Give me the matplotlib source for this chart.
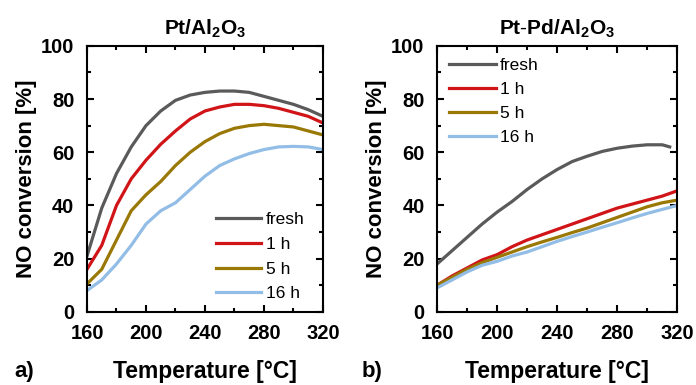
import numpy as np
import matplotlib
matplotlib.use('Agg')
import matplotlib.pyplot as plt
from matplotlib.ticker import MultipleLocator

plt.rcParams['font.family'] = 'Liberation Sans'
plt.rcParams['mathtext.fontset'] = 'custom'
plt.rcParams['mathtext.rm'] = 'Liberation Sans'
plt.rcParams['mathtext.bf'] = 'Liberation Sans:bold'

# Données
labels = ['fresh', '1 h', '5 h', '16 h']
couleurs = ['#5a5a5a', '#d01418', '#9a7806', '#92bde6']

T_a = [160, 170, 180, 190, 200, 210, 220, 230, 240, 250, 260, 270, 280, 290, 300, 310, 320]
pt_fresh = [21, 39, 52, 62, 70, 75.5, 79.5, 81.5, 82.5, 83, 83, 82.5, 81, 79.5, 78, 76, 73.5]
pt_1h = [16, 25, 40, 50, 57, 63, 68, 72.5, 75.5, 77, 78, 78, 77.5, 76.5, 75, 73.5, 71]
pt_5h = [10.5, 16, 27, 38, 44, 49, 55, 60, 64, 67, 69, 70, 70.5, 70, 69.5, 68, 66.5]
pt_16h = [8, 12, 18, 25, 33, 38, 41, 46, 51, 55, 57.5, 59.5, 61, 62, 62.2, 62, 61]

T_b = [160, 170, 180, 190, 200, 210, 220, 230, 240, 250, 260, 270, 280, 290, 300, 310, 320]
T_b_fresh = [160, 170, 180, 190, 200, 210, 220, 230, 240, 250, 260, 270, 280, 290, 300, 310, 315]
ptpd_fresh = [18, 23, 28, 33, 37.5, 41.5, 46, 50, 53.5, 56.5, 58.5, 60.3, 61.5, 62.3, 62.8, 62.8, 62]
ptpd_1h = [10, 13.5, 16.5, 19.5, 21.5, 24.5, 27, 29, 31, 33, 35, 37, 39, 40.5, 42, 43.5, 45.5]
ptpd_5h = [10, 13, 16, 18.5, 20.5, 22.5, 24.5, 26.3, 28, 29.8, 31.5, 33.5, 35.5, 37.5, 39.5, 41, 42]
ptpd_16h = [9, 12, 15, 17.5, 19, 21, 22.5, 24.5, 26.5, 28.3, 30, 31.8, 33.5, 35.3, 37, 38.5, 40]

fig = plt.figure(figsize=(6.96, 3.85), dpi=100)
ax1 = fig.add_axes([0.125, 0.19, 0.339, 0.691])
ax2 = fig.add_axes([0.628, 0.19, 0.345, 0.691])

series_a = [(T_a, pt_fresh), (T_a, pt_1h), (T_a, pt_5h), (T_a, pt_16h)]
series_b = [(T_b_fresh, ptpd_fresh), (T_b, ptpd_1h), (T_b, ptpd_5h), (T_b, ptpd_16h)]

for ax, series, titre in [(ax1, series_a, r'$\mathbf{Pt/Al_2O_3}$'),
                          (ax2, series_b, r'$\mathbf{Pt\text{-}Pd/Al_2O_3}$')]:
    for (x, y), lab, c in zip(series, labels, couleurs):
        ax.plot(x, y, color=c, lw=2.3, label=lab)
    ax.set_xlim(160, 320)
    ax.set_ylim(0, 100)
    ax.xaxis.set_major_locator(MultipleLocator(40))
    ax.xaxis.set_minor_locator(MultipleLocator(20))
    ax.yaxis.set_major_locator(MultipleLocator(20))
    ax.yaxis.set_minor_locator(MultipleLocator(10))
    ax.tick_params(which='both', direction='in', top=True, right=True, width=1.5)
    ax.tick_params(which='major', length=5, labelsize=14.5)
    ax.tick_params(axis='x', which='major', pad=9)
    ax.tick_params(axis='y', which='major', pad=9)
    ax.tick_params(which='minor', length=3)
    for lbl in ax.get_xticklabels() + ax.get_yticklabels():
        lbl.set_fontweight('bold')
    for s in ax.spines.values():
        s.set_linewidth(1.5)
    ax.set_xlabel('Temperature [°C]', fontsize=16.5, fontweight='bold', labelpad=12)
    ax.set_ylabel('NO conversion [%]', fontsize=16, fontweight='bold', labelpad=3)
    ax.set_title(titre, fontsize=15, pad=8)

ax1.legend(loc='lower right', bbox_to_anchor=(0.965, 0.0), frameon=False,
           fontsize=12.5, handlelength=2.6, labelspacing=0.55,
           handletextpad=0.25, borderaxespad=0.2)
ax2.legend(loc='upper left', frameon=False, fontsize=12.5, handlelength=2.7,
           labelspacing=0.5, handletextpad=0.2, borderaxespad=0.3)

fig.text(0.02, 0.02, 'a)', fontsize=16, fontweight='bold')
fig.text(0.52, 0.02, 'b)', fontsize=16, fontweight='bold')

fig.savefig('out.png', dpi=100)
